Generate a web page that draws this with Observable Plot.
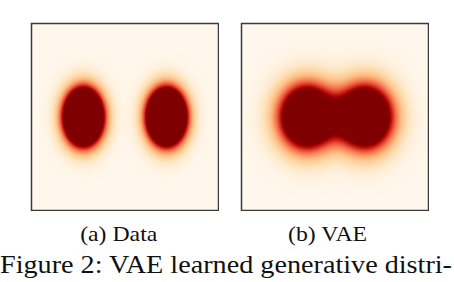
<!DOCTYPE html>
<html>
<head>
<meta charset="utf-8">
<script src="https://cdn.jsdelivr.net/npm/d3@7"></script>
<script src="https://cdn.jsdelivr.net/npm/@observablehq/plot@0.6"></script>
<style>
  html, body { margin: 0; padding: 0; background: #fff; }
  body { width: 454px; height: 282px; position: relative; overflow: hidden; font-family: "Liberation Serif", "Times New Roman", serif; color: #111; }
  .panel { position: absolute; top: 22px; }
  .cap { position: absolute; white-space: nowrap; font-size: 22px; line-height: 1; transform-origin: center; }
  .fig { position: absolute; left: 0; white-space: nowrap; font-size: 25px; line-height: 1; transform-origin: left; }
</style>
</head>
<body>
<div id="pa" class="panel" style="left:30px"></div>
<div id="pb" class="panel" style="left:240px"></div>
<div class="cap" id="ca"></div>
<div class="cap" id="cb"></div>
<div class="fig" id="fig"></div>
<script>
// Panel captions and figure caption
const panelTitles = ["(a) Data", "(b) VAE"];
const figureCaption = "Figure 2: VAE learned generative distri-";

// Mixture components (means and spreads) for each panel, in data units
const dataMeanX = [-2.0, 2.0];
const dataMeanY = [0.0, 0.0];
const dataSigmaX = [0.59, 0.59];
const dataSigmaY = [0.85, 0.85];
const dataColorMax = 0.26;

const vaeMeanX = [-1.35, 1.45];
const vaeMeanY = [0.0, 0.0];
const vaeSigmaX = [0.91, 0.91];
const vaeSigmaY = [1.06, 1.06];
const vaeColorMax = 0.45;

const extent = [-4.5, 4.5];

function mixture(mx, my, sx, sy) {
  return (x, y) => {
    let s = 0;
    for (let i = 0; i < mx.length; i++) {
      const dx = (x - mx[i]) / sx[i], dy = (y - my[i]) / sy[i];
      s += Math.exp(-0.5 * (dx * dx + dy * dy));
    }
    return s;
  };
}

function panel(f, vmax) {
  return Plot.plot({
    width: 189, height: 189,
    marginTop: 1, marginRight: 1, marginBottom: 1, marginLeft: 1,
    x: {domain: extent, axis: null},
    y: {domain: extent, axis: null},
    color: {type: "linear", scheme: "OrRd", domain: [0, vmax], clamp: true},
    marks: [
      Plot.raster({x1: extent[0], x2: extent[1], y1: extent[0], y2: extent[1], fill: f, pixelSize: 1}),
      Plot.frame({stroke: "#3a3a3a", strokeWidth: 1.5})
    ]
  });
}

document.getElementById("pa").append(panel(mixture(dataMeanX, dataMeanY, dataSigmaX, dataSigmaY), dataColorMax));
document.getElementById("pb").append(panel(mixture(vaeMeanX, vaeMeanY, vaeSigmaX, vaeSigmaY), vaeColorMax));

function placeCap(id, text, cx, baseline) {
  const el = document.getElementById(id);
  el.textContent = text;
  el.style.transform = "scaleX(1.08)";
  const w = el.getBoundingClientRect().width / 1.08;
  el.style.left = (cx - w / 2) + "px";
  el.style.top = (baseline - 22 * 0.89) + "px";
}
placeCap("ca", panelTitles[0], 118.5, 243);
placeCap("cb", panelTitles[1], 328, 243);

const fig = document.getElementById("fig");
fig.textContent = figureCaption;
const fw = fig.getBoundingClientRect().width;
fig.style.transform = "scaleX(" + (452 / fw) + ")";
fig.style.top = (274 - 25 * 0.89) + "px";
</script>
</body>
</html>
